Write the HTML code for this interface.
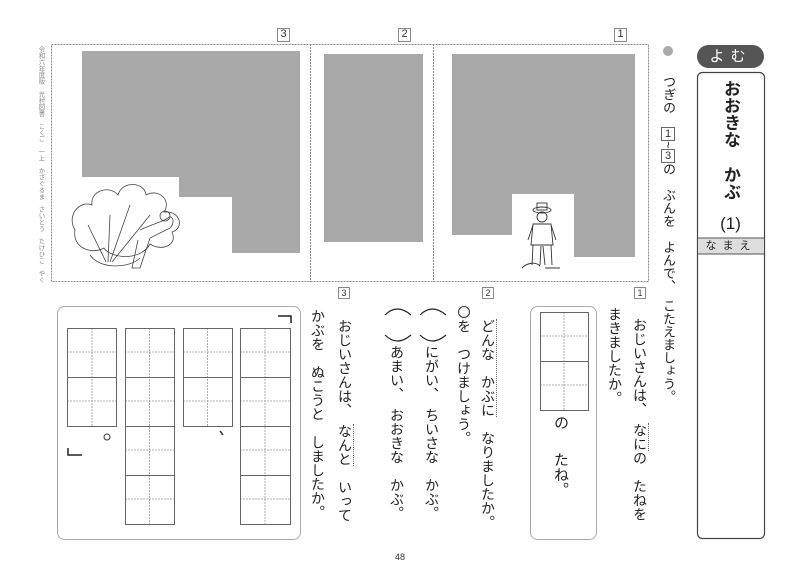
<!DOCTYPE html>
<html><head><meta charset="utf-8">
<style>
html,body{margin:0;padding:0;background:#fff;}
body{width:800px;height:574px;position:relative;overflow:hidden;font-family:"Liberation Sans","Noto Sans CJK JP",sans-serif;color:#222;}
.v{position:absolute;writing-mode:vertical-rl;white-space:nowrap;font-size:14px;line-height:1;}
.bx{display:inline-block;border:1px solid #666;font-size:11px;line-height:12px;width:12px;text-align:center;writing-mode:horizontal-tb;color:#333;}
.num{position:absolute;border:1px solid #888;font-size:11px;line-height:11px;width:11px;height:12px;text-align:center;color:#333;}
.ul{border-right:1px dotted #666;}
</style></head><body>
<svg width="800" height="574" style="position:absolute;left:0;top:0" xmlns="http://www.w3.org/2000/svg">
<rect x="51.5" y="44.5" width="597" height="237" fill="none" stroke="#888" stroke-dasharray="2,1"/>
<line x1="310.5" y1="44" x2="310.5" y2="282" stroke="#888" stroke-dasharray="2,1"/>
<line x1="433.5" y1="44" x2="433.5" y2="282" stroke="#888" stroke-dasharray="2,1"/>
<polygon points="82,51 300,51 300,253 232,253 232,197 179,197 179,177 82,177" fill="#a9a9a9"/>
<rect x="324" y="54" width="99" height="188" fill="#a9a9a9"/>
<polygon points="452,54 635,54 635,257 574,257 574,194 512,194 512,235 452,235" fill="#a9a9a9"/>
<g fill="none" stroke="#444" stroke-width="0.8">
<path d="M75,230 C66,215 80,200 92,205 C90,190 110,185 118,195 C122,180 145,182 146,195 C158,188 172,200 164,212 C180,210 185,228 172,232 C178,245 162,252 150,244 C140,262 110,258 104,248 C92,255 72,248 75,230Z"/>
<path d="M108,262 L110,215 M110,262 L130,205 M112,262 L150,215 M106,262 L88,225"/>
<path d="M90,255 C100,270 130,268 140,258"/>
<path d="M140,230 C150,225 162,222 168,218 C172,214 176,222 170,228 L150,238 L140,268 L132,268 L138,240"/>
<circle cx="165" cy="216" r="5"/>
</g>
<g fill="none" stroke="#333" stroke-width="0.9">
<ellipse cx="542" cy="210" rx="9" ry="3"/>
<rect x="537" y="203" width="10" height="7"/>
<circle cx="542" cy="217" r="5"/>
<path d="M533,224 L551,224 L553,245 L531,245Z"/>
<path d="M533,225 L528,240 M551,225 L556,240"/>
<path d="M533,245 L532,265 M541,246 L540,265 M543,246 L545,265 M551,245 L552,265"/>
<path d="M522,268 C528,262 536,262 540,266 M545,268 L560,268"/>
</g>
<rect x="57.5" y="306.5" width="243" height="233" rx="7" fill="none" stroke="#aaa"/>
<g stroke="#999" stroke-dasharray="2,1" stroke-width="0.8">
<line x1="92" y1="328" x2="92" y2="426"/><line x1="67" y1="352" x2="117" y2="352"/><line x1="67" y1="401" x2="117" y2="401"/>
<line x1="149.5" y1="328" x2="149.5" y2="524"/><line x1="125" y1="352" x2="174" y2="352"/><line x1="125" y1="401" x2="174" y2="401"/><line x1="125" y1="450" x2="174" y2="450"/><line x1="125" y1="499" x2="174" y2="499"/>
<line x1="207.5" y1="328" x2="207.5" y2="426"/><line x1="183" y1="352" x2="232" y2="352"/><line x1="183" y1="401" x2="232" y2="401"/>
<line x1="265" y1="328" x2="265" y2="524"/><line x1="240" y1="352" x2="290" y2="352"/><line x1="240" y1="401" x2="290" y2="401"/><line x1="240" y1="450" x2="290" y2="450"/><line x1="240" y1="499" x2="290" y2="499"/>
<line x1="564" y1="312" x2="564" y2="410"/><line x1="540" y1="336" x2="588" y2="336"/><line x1="540" y1="385" x2="588" y2="385"/>
</g>
<g fill="none" stroke="#666" stroke-width="1">
<rect x="67.5" y="328.5" width="49" height="98"/><line x1="67" y1="377.5" x2="117" y2="377.5"/>
<rect x="125.5" y="328.5" width="49" height="196"/><line x1="125" y1="377.5" x2="174" y2="377.5"/><line x1="125" y1="426.5" x2="174" y2="426.5"/><line x1="125" y1="475.5" x2="174" y2="475.5"/>
<rect x="183.5" y="328.5" width="49" height="98"/><line x1="183" y1="377.5" x2="232" y2="377.5"/>
<rect x="240.5" y="328.5" width="50" height="196"/><line x1="240" y1="377.5" x2="290" y2="377.5"/><line x1="240" y1="426.5" x2="290" y2="426.5"/><line x1="240" y1="475.5" x2="290" y2="475.5"/>
<rect x="540.5" y="312.5" width="48" height="98"/><line x1="540" y1="361.5" x2="588" y2="361.5"/>
</g>
<path d="M278,316 L291,316 L291,323" fill="none" stroke="#222" stroke-width="1.5"/>
<path d="M68,448 L68,455 L82,455" fill="none" stroke="#222" stroke-width="1.5"/>
<circle cx="107" cy="437" r="3" fill="none" stroke="#333"/>
<path d="M220,431 L223,435" stroke="#333" stroke-width="1.5"/>
<rect x="530.5" y="306.5" width="66" height="233" rx="7" fill="none" stroke="#aaa"/>
<g fill="none" stroke="#222" stroke-width="1.2">
<path d="M420,315 Q432,303 446,315"/><path d="M420,335 Q432,347 446,335"/>
<path d="M385,315 Q397,303 411,315"/><path d="M385,335 Q397,347 411,335"/>
</g>
<circle cx="464" cy="312" r="5.5" fill="none" stroke="#333"/>
<circle cx="668" cy="51" r="5" fill="#aaa"/>
<rect x="697" y="45" width="67" height="23" rx="11.5" fill="#555"/>
<rect x="697.5" y="72.5" width="67" height="466" rx="5" fill="none" stroke="#444" stroke-width="1.2"/>
<rect x="698" y="238" width="66" height="16" fill="#ddd"/>
<line x1="698" y1="238" x2="764" y2="238" stroke="#555"/><line x1="698" y1="254" x2="764" y2="254" stroke="#555"/>
</svg>

<div class="num" style="left:277px;top:28px">3</div>
<div class="num" style="left:398px;top:28px">2</div>
<div class="num" style="left:614px;top:28px">1</div>
<div class="num" style="left:338px;top:287px;font-size:9px;width:10px;height:10px;line-height:10px">3</div>
<div class="num" style="left:482px;top:287px;font-size:9px;width:10px;height:10px;line-height:10px">2</div>
<div class="num" style="left:634px;top:287px;font-size:9px;width:10px;height:10px;line-height:10px">1</div>

<div class="v" style="left:37px;top:46px;font-size:6.4px;color:#888">令和六年度版　光村図書　こくご　一上　かざぐるま　さいとう　たけひこ　やく</div>

<div style="position:absolute;left:697px;top:45px;width:67px;height:23px;line-height:23px;text-align:center;color:#fff;font-size:15px;letter-spacing:6px">よむ</div>
<div class="v" style="left:722px;top:80px;font-size:17px;font-weight:bold;line-height:1">おおきな</div>
<div class="v" style="left:722px;top:166px;font-size:17px;font-weight:bold;line-height:1">かぶ</div>
<div style="position:absolute;left:697px;top:214px;width:67px;text-align:center;font-size:17px;line-height:20px">(1)</div>
<div style="position:absolute;left:698px;top:239px;width:66px;text-align:center;font-size:11px;letter-spacing:6px;line-height:14px">なまえ</div>

<div class="v" style="left:661px;top:75px;font-size:13px;line-height:1.0">つぎの　<span class="bx">1</span>~<span class="bx">3</span>の　ぶんを　よんで、　こたえましょう。</div>

<div class="v" style="left:633px;top:318px">おじいさんは、　<span class="ul">なに</span>の　たねを</div>
<div class="v" style="left:608px;top:307px">まきましたか。</div>
<div class="v" style="left:553px;top:415px;font-size:15px">の</div>
<div class="v" style="left:553px;top:452px;font-size:15px">たね。</div>

<div class="v" style="left:481px;top:319px"><span class="ul">どんな　かぶに</span>　なりましたか。</div>
<div class="v" style="left:457px;top:319px">を　つけましょう。</div>
<div class="v" style="left:425px;top:345px">にがい、　ちいさな　かぶ。</div>
<div class="v" style="left:390px;top:345px">あまい、　おおきな　かぶ。</div>

<div class="v" style="left:338px;top:319px">おじいさんは、　<span class="ul">なんと</span>　いって</div>
<div class="v" style="left:311px;top:309px">かぶを　ぬこうと　しましたか。</div>

<div style="position:absolute;left:390px;top:552px;width:20px;text-align:center;font-size:9px;color:#333">48</div>
</body></html>
